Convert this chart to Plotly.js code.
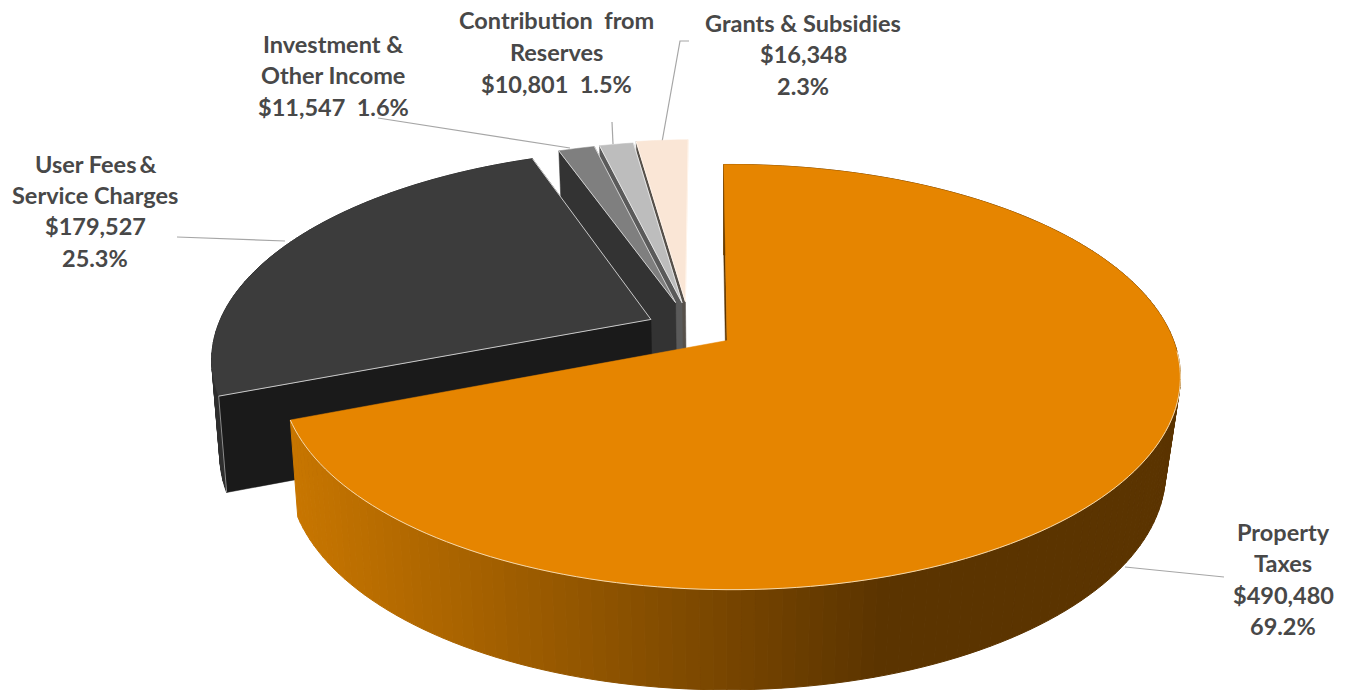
<!DOCTYPE html>
<html>
<head>
<meta charset="utf-8">
<script src="https://cdn.plot.ly/plotly-3.0.1.min.js"></script>
<style>html,body{margin:0;padding:0;background:#fff;overflow:hidden}</style>
</head>
<body>
<div id="chart" style="width:1348px;height:690px"></div>
<script>
// Budget revenue sources, clockwise from twelve o'clock
const categories = ['Property Taxes', 'User Fees & Service Charges', 'Investment & Other Income', 'Contribution from Reserves', 'Grants & Subsidies'];
const values = [490480, 179527, 11547, 10801, 16348];

// Name lines for each label, and how the amount and percent are set under them
const nameLines = [['Property', 'Taxes'], ['User Fees\u2009&', 'Service Charges'], ['Investment &', 'Other Income'], ['Contribution\u00A0 from', 'Reserves'], ['Grants & Subsidies']];
const sameLine = [false, false, true, true, false];

// Slice appearance
const topColors = ['#E68500', '#3C3C3C', '#7F7F7F', '#BDBDBD', '#FAE6D6'];
const edgeColors = ['#F4D9AE', '#C9C9C9', '#D0D0D0', '#E6E6E6', '#FFF4EA'];
const cutColors = ['#5B3400', '#1A1A1A', '#333333', '#5A5A5A', '#56504A'];
const wallColors = ['shaded', '#2E2E2E', null, null, null];
const shiftU = [0, -0.175, -0.12, -0.105, -0.097];
const shiftV = [0, -0.104, -0.19, -0.19, -0.195];
const radii = [1, 1, 0.965, 0.97, 0.975];

// Label placement: centre x and the y of each text line
const labelX = [1283, 95, 333, 556, 803];
const labelY = [[532, 563, 595, 626], [164, 195, 226, 258], [44, 75, 107], [20, 52, 84], [23, 54, 86]];

// Leader lines from label to slice
const leaders = [
  [[1224, 577], [1125, 567]],
  [[177, 237], [285, 241]],
  [[378, 118], [570, 148]],
  [[612, 122], [613, 144]],
  [[689, 41], [680, 41], [662, 142]]
];

// Perspective view of the disc: upper and lower planes of the pie
const startAngle = -0.5;
const persp = 0.172;
const centreX = 727;
const planes = [{cy: 340.5, a: 443, b: 206.3, q: 0.008}, {cy: 435, a: 432, b: 211, q: 0}];

function project(u, v, level) {
  const pl = planes[level], w = 1 - persp * v - pl.q * u;
  return [centreX + pl.a * u / w, pl.cy + pl.b * v / w];
}
function rimPoint(i, deg, level) {
  const t = deg * Math.PI / 180;
  return project(shiftU[i] + radii[i] * Math.sin(t), shiftV[i] - radii[i] * Math.cos(t), level);
}
function apexPoint(i, level) {
  return project(shiftU[i], shiftV[i], level);
}
function polygon(points, fill, width) {
  return {
    type: 'scatter', mode: 'lines', hoverinfo: 'skip', showlegend: false,
    x: points.map(p => p[0]), y: points.map(p => p[1]),
    fill: 'toself', fillcolor: fill,
    line: {color: fill, width: width === undefined ? 1 : width, simplify: false}
  };
}
function edge(points, colour) {
  return {
    type: 'scatter', mode: 'lines', hoverinfo: 'skip', showlegend: false,
    x: points.map(p => p[0]), y: points.map(p => p[1]),
    line: {color: colour, width: 1, simplify: false}
  };
}
// Side wall of the large slice darkens from left to right
function wallShade(x) {
  const t = Math.min(1, Math.max(0, (x - 293) / 587));
  return 'rgb(' + Math.round(200 - 109 * t) + ',' + Math.round(118 - 66 * t) + ',0)';
}

const total = values.reduce((a, b) => a + b, 0);
const bounds = [];
values.reduce((acc, val, i) => {
  const next = acc + val / total * 360;
  bounds[i] = [acc, next];
  return next;
}, startAngle);

const traces = [];
for (let i = values.length - 1; i >= 0; i--) {
  const [from, to] = bounds[i];
  const steps = Math.max(2, Math.ceil((to - from) / 1.5));
  const angle = k => from + (to - from) * k / steps;

  // Outer wall
  if (wallColors[i]) {
    for (let k = 0; k < steps; k++) {
      const a = rimPoint(i, angle(k), 0), b = rimPoint(i, angle(k + 1), 0);
      const c = rimPoint(i, angle(k + 1), 1), d = rimPoint(i, angle(k), 1);
      const colour = wallColors[i] === 'shaded' ? wallShade((a[0] + b[0] + c[0] + d[0]) / 4) : wallColors[i];
      traces.push(polygon([a, b, c, d, a], colour));
    }
  }

  // Radial cut face on the leading side
  const p0 = apexPoint(i, 0), p1 = rimPoint(i, from, 0), p2 = rimPoint(i, from, 1), p3 = apexPoint(i, 1);
  traces.push(polygon([p0, p1, p2, p3, p0], cutColors[i], 0.5));

  // Top surface
  const top = [p0];
  for (let k = 0; k <= steps; k++) top.push(rimPoint(i, angle(k), 0));
  top.push(p0);
  traces.push(polygon(top, topColors[i], 0.5));

  // Highlights: front rim on the large slice, cut edges on the others
  if (i === 0) {
    const front = [];
    for (let d = 93; d <= to; d += 1.5) front.push(rimPoint(i, d, 0));
    front.push(rimPoint(i, to, 0));
    traces.push(edge(front, edgeColors[i]));
  } else {
    traces.push(edge([rimPoint(i, from, 0), p0, rimPoint(i, to, 0)], edgeColors[i]));
    if (i === 1) traces.push(edge([p1, p2], '#8C8C8C'));
  }
}

const money = v => '$' + v.toLocaleString('en-US');
const percent = v => (v / total * 100).toFixed(1) + '%';

const annotations = [];
values.forEach((v, i) => {
  const lines = nameLines[i].slice();
  if (sameLine[i]) lines.push(money(v) + '\u00A0 ' + percent(v));
  else lines.push(money(v), percent(v));
  lines.forEach((text, j) => annotations.push({
    x: labelX[i], y: labelY[i][j], xref: 'x', yref: 'y', text: text,
    showarrow: false, xanchor: 'center', yanchor: 'middle',
    font: {family: 'Lato, "Open Sans", sans-serif', size: 23.5, weight: 700, color: '#484848'}
  }));
});

const shapes = leaders.map(pts => ({
  type: 'path', xref: 'x', yref: 'y',
  path: pts.map((p, k) => (k ? 'L' : 'M') + p[0] + ' ' + p[1]).join(' '),
  line: {color: '#A6A6A6', width: 1.2}, layer: 'below'
}));

Plotly.newPlot('chart', traces, {
  width: 1348, height: 690,
  margin: {l: 0, r: 0, t: 0, b: 0},
  paper_bgcolor: '#fff', plot_bgcolor: '#fff', showlegend: false,
  xaxis: {range: [0, 1348], visible: false, fixedrange: true},
  yaxis: {range: [690, 0], visible: false, fixedrange: true},
  shapes: shapes, annotations: annotations
}, {displayModeBar: false, staticPlot: true});
</script>
</body>
</html>
